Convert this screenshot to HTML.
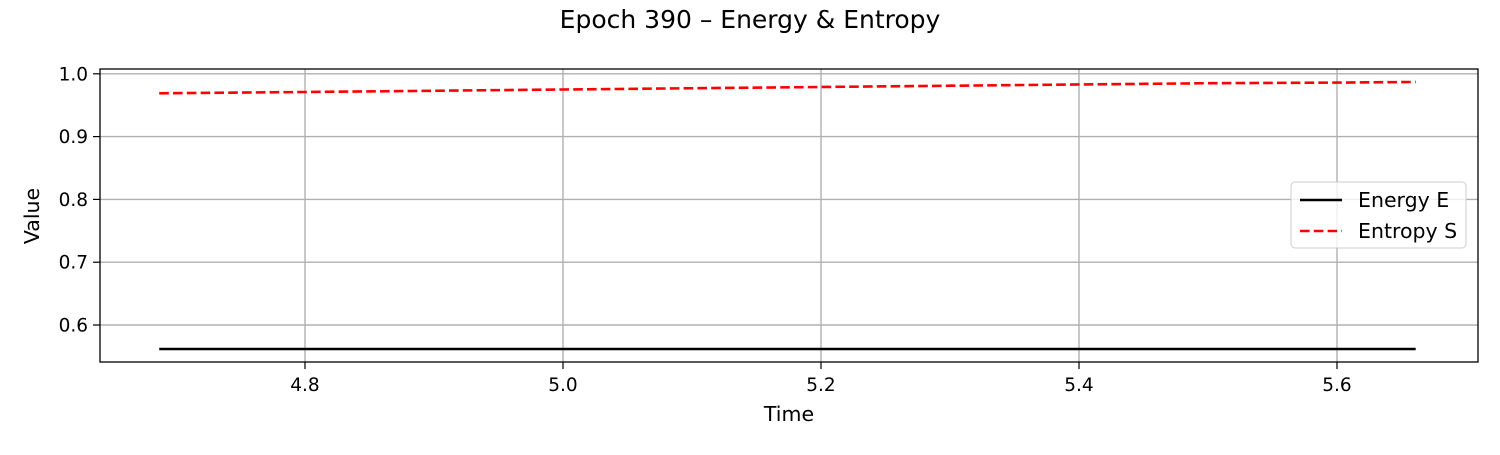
<!DOCTYPE html>
<html><head><meta charset="utf-8"><style>
body{margin:0;background:#fff;font-family:"Liberation Sans","DejaVu Sans",sans-serif;}
svg text{font-family:"DejaVu Sans","Liberation Sans",sans-serif;}
</style></head><body>
<svg id="c" width="1500" height="450" xmlns="http://www.w3.org/2000/svg">
<text x="750" y="28" text-anchor="middle" font-size="25">Epoch 390 – Energy &amp; Entropy</text>
<g id="grid"></g><g id="ticks"></g><g id="series"></g>
<rect x="100" y="69" width="1378" height="293" fill="none" stroke="#000" stroke-width="1.3"/>
<text x="789" y="421" text-anchor="middle" font-size="20.5">Time</text>
<text x="39" y="216" text-anchor="middle" font-size="20.5" transform="rotate(-90 39 216)">Value</text>
<g>
<rect x="1291" y="182" width="175" height="66" rx="4" fill="#fff" fill-opacity="0.8" stroke="#ccc"/>
<line x1="1300" y1="200" x2="1342" y2="200" stroke="#000" stroke-width="2.6"/>
<text x="1358" y="207" font-size="20.5">Energy E</text>
<line x1="1300" y1="231" x2="1342" y2="231" stroke="#f00" stroke-width="2.6" stroke-dasharray="9.6,4.2"/>
<text x="1358" y="238" font-size="20.5">Entropy S</text>
</g>
</svg>
<script>
const times=[4.687,4.8,4.9,5.0,5.1,5.2,5.3,5.4,5.5,5.6,5.661];
const energy=[0.5618,0.5618,0.5618,0.5618,0.5618,0.5618,0.5618,0.5618,0.5618,0.5618,0.5618];
const entropy=[0.969,0.971,0.973,0.975,0.977,0.979,0.981,0.983,0.985,0.986,0.987];
const xTicks=[4.8,5.0,5.2,5.4,5.6];
const yTicks=[0.6,0.7,0.8,0.9,1.0];
const NS="http://www.w3.org/2000/svg";
function X(v){return 305+(v-4.8)*1290;}
function Y(v){return 325-(v-0.6)*628;}
function mk(tag,attrs,parent){const e=document.createElementNS(NS,tag);for(const k in attrs)e.setAttribute(k,attrs[k]);document.getElementById(parent).appendChild(e);return e;}
xTicks.forEach(t=>{
 const g=mk('line',{x1:X(t),x2:X(t),y1:69,y2:362,stroke:'#b0b0b0','stroke-width':1.4},'grid');
 
 
 mk('line',{x1:X(t),x2:X(t),y1:362,y2:369,stroke:'#000','stroke-width':1.2},'ticks');
 const tx=mk('text',{x:X(t),y:391,'text-anchor':'middle','font-size':18.5},'ticks');
 tx.textContent=t.toFixed(1);
 
 
});
yTicks.forEach(t=>{
 const g=mk('line',{x1:100,x2:1478,y1:Y(t),y2:Y(t),stroke:'#b0b0b0','stroke-width':1.4},'grid');
 
 
 mk('line',{x1:93,x2:100,y1:Y(t),y2:Y(t),stroke:'#000','stroke-width':1.2},'ticks');
 const tx=mk('text',{x:88,y:Y(t)+6.5,'text-anchor':'end','font-size':18.5},'ticks');
 tx.textContent=t.toFixed(1);
 
 
});
function pts(vals){return times.map((t,i)=>X(t)+','+Y(vals[i])).join(' ');}
const e=mk('polyline',{points:pts(energy),fill:'none',stroke:'#000','stroke-width':2.6},'series');


const s=mk('polyline',{points:pts(entropy),fill:'none',stroke:'#f00','stroke-width':2.6,'stroke-dasharray':'9.6,4.2'},'series');


</script>
</body></html>
